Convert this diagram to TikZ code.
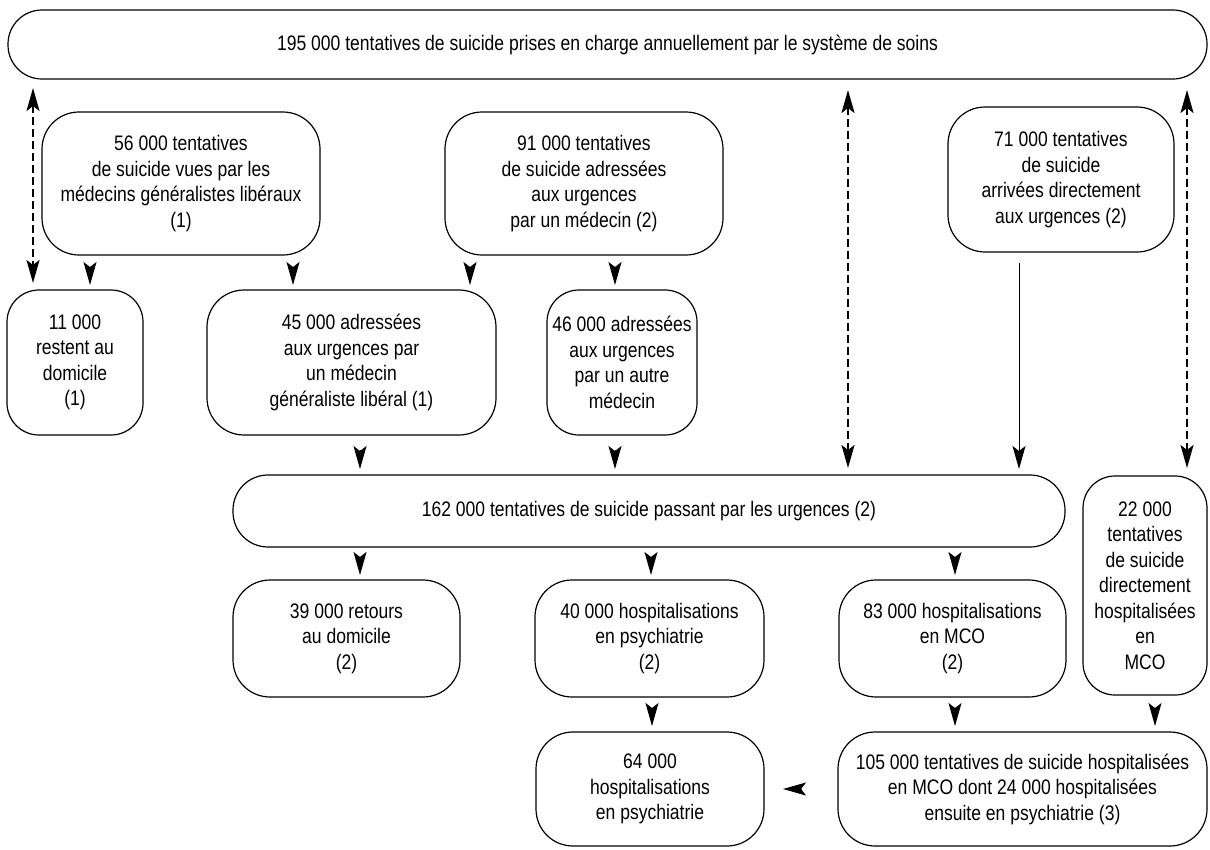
\documentclass[tikz,border=0pt]{standalone}
\usepackage{fontspec}
\setmainfont{Liberation Sans}[FakeStretch=0.835]
\usetikzlibrary{arrows.meta}
\begin{document}
\begin{tikzpicture}[x=1pt,y=-1pt,
  box/.style={draw, line width=1.2pt, rounded corners=37pt, inner sep=0pt, outer sep=0pt,
    align=center, font=\fontsize{21}{25.5}\selectfont},
  tip/.style={-{Stealth[length=23pt,width=13pt,inset=5pt]}, line width=1pt},
  dasharr/.style={{Stealth[length=23pt,width=13pt,inset=5pt]}-{Stealth[length=23pt,width=13pt,inset=5pt]}, line width=2.3pt, dash pattern=on 8pt off 4pt},
  solidarr/.style={-{Stealth[length=23pt,width=13pt,inset=5pt]}, line width=1pt}]
\useasboundingbox (0,0) rectangle (1210,849);
% nodes
\node[box, rounded corners=34pt, minimum width=1199pt, minimum height=69pt] (top) at (607.5,44.5)
  {195 000 tentatives de suicide prises en charge annuellement par le système de soins};
\node[box, minimum width=278pt, minimum height=143pt] (n56) at (181,183.5)
  {56 000 tentatives\\de suicide vues par les\\médecins généralistes libéraux\\(1)};
\node[box, minimum width=278pt, minimum height=143pt] (n91) at (584,183.5)
  {91 000 tentatives\\de suicide adressées\\aux urgences\\par un médecin (2)};
\node[box, minimum width=226pt, minimum height=145pt] (n71) at (1061,179.5)
  {71 000 tentatives\\de suicide\\arrivées directement\\aux urgences (2)};
\node[box, rounded corners=32pt, minimum width=136pt, minimum height=145pt] (n11) at (75,362.5)
  {11 000\\restent au\\domicile\\(1)};
\node[box, minimum width=289pt, minimum height=145pt] (n45) at (351.5,362.5)
  {45 000 adressées\\aux urgences par\\un médecin\\généraliste libéral (1)};
\node[box, rounded corners=32pt, minimum width=150pt, minimum height=145pt] (n46) at (622,362.5)
  {46 000 adressées\\aux urgences\\par un autre\\médecin};
\node[box, rounded corners=35pt, minimum width=832pt, minimum height=72pt] (n162) at (649,511)
  {162 000 tentatives de suicide passant par les urgences (2)};
\node[box, rounded corners=32pt, minimum width=124pt, minimum height=219pt] (n22) at (1145,585.5)
  {22 000\\tentatives\\de suicide\\directement\\hospitalisées\\en\\MCO};
\node[box, minimum width=227pt, minimum height=117pt] (n39) at (346.5,638.5)
  {39 000 retours\\au domicile\\(2)};
\node[box, minimum width=229pt, minimum height=117pt] (n40) at (649.5,638.5)
  {40 000 hospitalisations\\en psychiatrie\\(2)};
\node[box, minimum width=227pt, minimum height=117pt] (n83) at (952.5,638.5)
  {83 000 hospitalisations\\en MCO\\(2)};
\node[box, minimum width=228pt, minimum height=114pt] (n64) at (650,789)
  {64 000\\hospitalisations\\en psychiatrie};
\node[box, minimum width=369pt, minimum height=114pt] (n105) at (1022.5,789)
  {105 000 tentatives de suicide hospitalisées\\en MCO dont 24 000 hospitalisées\\ensuite en psychiatrie (3)};
% dashed double arrows
\draw[dasharr, shorten <=9pt, shorten >=7pt] (top.south -| 33,0) -- (n11.north -| 33,0);
\draw[dasharr, shorten <=11pt, shorten >=7pt] (top.south -| 848,0) -- (n162.north -| 848,0);
\draw[dasharr, shorten <=11pt, shorten >=8pt] (top.south -| 1187,0) -- (n22.north -| 1187,0);
% solid connector
\draw[solidarr, shorten <=11pt, shorten >=6pt] (n71.south -| 1019,0) -- (n162.north -| 1019,0);
% free arrow heads
\draw[tip, shorten <=12pt, shorten >=5pt] (n56.south -| 90,0) -- (n11.north -| 90,0);
\draw[tip, shorten <=12pt, shorten >=5pt] (n56.south -| 293,0) -- (n45.north -| 293,0);
\draw[tip, shorten <=12pt, shorten >=5pt] (n91.south -| 470,0) -- (n45.north -| 470,0);
\draw[tip, shorten <=12pt, shorten >=5pt] (n91.south -| 615,0) -- (n46.north -| 615,0);
\draw[tip, shorten <=15pt, shorten >=6pt] (n45.south -| 360,0) -- (n162.north -| 360,0);
\draw[tip, shorten <=15pt, shorten >=6pt] (n46.south -| 615,0) -- (n162.north -| 615,0);
\draw[tip, shorten <=10pt, shorten >=5pt] (n162.south -| 360,0) -- (n39.north -| 360,0);
\draw[tip, shorten <=10pt, shorten >=5pt] (n162.south -| 651,0) -- (n40.north -| 651,0);
\draw[tip, shorten <=10pt, shorten >=5pt] (n162.south -| 955,0) -- (n83.north -| 955,0);
\draw[tip, shorten <=11pt, shorten >=6pt] (n40.south -| 652,0) -- (n64.north -| 652,0);
\draw[tip, shorten <=11pt, shorten >=6pt] (n83.south -| 955,0) -- (n105.north -| 955,0);
\draw[tip, shorten <=13pt, shorten >=6pt] (n22.south -| 1155,0) -- (n105.north -| 1155,0);
\draw[tip, shorten <=36pt, shorten >=19pt] (n105.west) -- (n64.east);
\end{tikzpicture}
\end{document}
